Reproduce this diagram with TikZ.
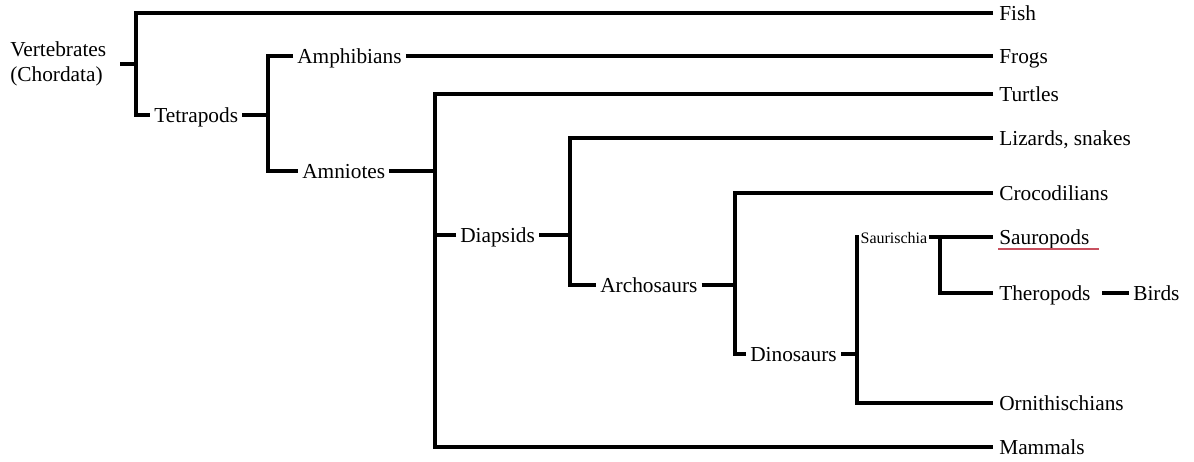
\documentclass[tikz,border=0pt]{standalone}
\usepackage{fontspec}
\setmainfont{Liberation Serif}
\begin{document}
\begin{tikzpicture}[x=0.75pt,y=-0.75pt,
  br/.style={line width=3.6pt, line join=miter},
  lab/.style={anchor=west, inner xsep=3pt, inner ysep=0pt, text height=11.6pt, text depth=0pt, font=\fontsize{16}{19}\selectfont},
  leaf/.style={lab, inner xsep=4.5pt},
  small/.style={lab, inner xsep=1pt, text height=9pt, font=\fontsize{12}{14}\selectfont},
  uline/.style={draw={rgb,255:red,200;green,80;blue,95}, line width=0.8pt}]
\useasboundingbox (0,0) rectangle (1194,461);
\fill[white] (0,0) rectangle (1194,461);
% root
\node[anchor=west, align=left, inner xsep=7.5pt, inner ysep=0pt, font=\fontsize{16}{18.75}\selectfont] (vert) at (0,64) {Vertebrates\\(Chordata)};
\coordinate (a0) at (136,64);
\draw[br, shorten <=3pt] (vert.east) -- (a0);
\node[leaf] (fish) at (993,13) {Fish};
\node[lab] (tet) at (150,115) {Tetrapods};
\draw[br] (fish.west) -| (a0) |- (tet.west);
% tetrapods
\coordinate (a1) at (268,115);
\draw[br] (tet.east) -- (a1);
\node[lab] (amph) at (293,56) {Amphibians};
\node[leaf] (frogs) at (993,56) {Frogs};
\node[lab] (amn) at (298,171) {Amniotes};
\draw[br] (amph.west) -| (a1) |- (amn.west);
\draw[br] (amph.east) -- (frogs.west);
% amniotes
\coordinate (a2) at (435,171);
\draw[br] (amn.east) -- (a2);
\node[leaf] (turt) at (993,94) {Turtles};
\node[leaf] (mam) at (993,447) {Mammals};
\draw[br] (turt.west) -| (a2) |- (mam.west);
\node[lab] (dia) at (456,235) {Diapsids};
\draw[br] (dia.west) -- (dia.west -| a2);
% diapsids
\coordinate (a3) at (570,235);
\draw[br] (dia.east) -- (a3);
\node[leaf] (liz) at (993,138) {Lizards, snakes};
\node[lab] (arch) at (596,285) {Archosaurs};
\draw[br] (liz.west) -| (a3) |- (arch.west);
% archosaurs
\coordinate (a4) at (735,285);
\draw[br] (arch.east) -- (a4);
\node[leaf] (croc) at (993,193) {Crocodilians};
\node[lab] (dino) at (746,354) {Dinosaurs};
\draw[br] (croc.west) -| (a4) |- (dino.west);
% dinosaurs
\coordinate (a5) at (857,354);
\draw[br] (dino.east) -- (a5);
\node[small] (saur) at (859,237) {Saurischia};
\node[leaf] (orni) at (993,403) {Ornithischians};
\draw[br] (saur.west) -| (a5) |- (orni.west);
% saurischia
\node[leaf] (sauro) at (993,237) {Sauropods};
\node[leaf] (thero) at (993,293) {Theropods};
\coordinate (a6) at (940,237);
\draw[br] (saur.east) -- (sauro.west);
\draw[br] (a6) |- (thero.west);
\node[lab] (birds) at (1129,293) {Birds};
\draw[br, shorten <=4pt] (thero.east) -- (birds.west);
\draw[uline] ([shift={(5,12)}]sauro.west) -- ++(101,0);
\end{tikzpicture}
\end{document}
